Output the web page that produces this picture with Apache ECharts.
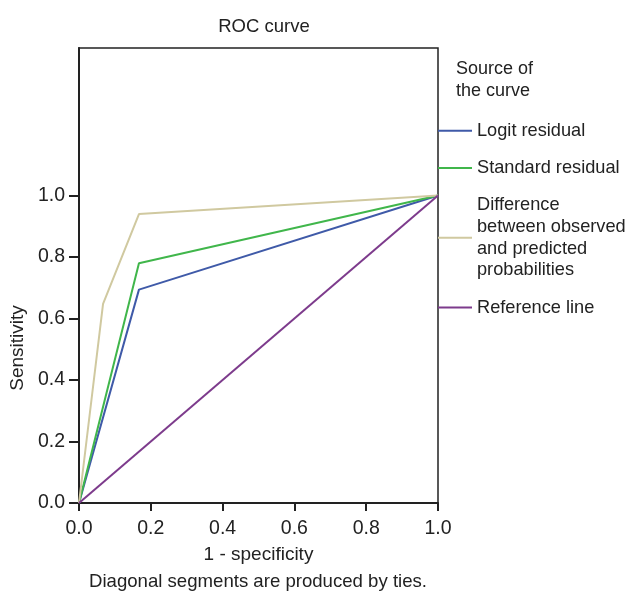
<!DOCTYPE html>
<html>
<head>
<meta charset="utf-8">
<script src="https://cdn.jsdelivr.net/npm/echarts@6/dist/echarts.min.js"></script>
<style>
html,body{margin:0;padding:0;background:#fff;}
#c{width:630px;height:592px;}
</style>
</head>
<body>
<div id="c"></div>
<script>
// ROC data: [1 - specificity, sensitivity]
var logitResidual = [[0, 0], [0.167, 0.694], [1, 1]];
var standardResidual = [[0, 0], [0.167, 0.780], [1, 1]];
var differenceObsPred = [[0, 0], [0.067, 0.648], [0.167, 0.940], [1, 1]];
var referenceLine = [[0, 0], [1, 1]];
var seriesNames = ['Logit residual', 'Standard residual', 'Difference\nbetween observed\nand predicted\nprobabilities', 'Reference line'];
var seriesColors = ['#3f5aa8', '#40b64b', '#d0c9a0', '#7d3b8c'];
var tickValues = [0, 0.2, 0.4, 0.6, 0.8, 1.0];

var FONT = 'Liberation Sans, Arial, sans-serif';
var chart = echarts.init(document.getElementById('c'));
var datasets = [logitResidual, standardResidual, differenceObsPred, referenceLine];

chart.setOption({
  animation: false,
  backgroundColor: '#fff',
  textStyle: {fontFamily: FONT},
  title: [
    {text: 'ROC curve', left: 259, top: 12, textAlign: 'center',
     textStyle: {fontSize: 18.5, fontWeight: 'normal', color: '#222', fontFamily: FONT}},
    {text: 'Source of\nthe curve', left: 456, top: 58, padding: 0,
     textStyle: {fontSize: 18, fontWeight: 'normal', color: '#222', lineHeight: 22, fontFamily: FONT}},
    {text: 'Diagonal segments are produced by ties.', left: 258, top: 572, textAlign: 'center', padding: 0,
     textStyle: {fontSize: 18.6, fontWeight: 'normal', color: '#222', fontFamily: FONT}}
  ],
  grid: {left: 79, right: 192, top: 48, bottom: 89, show: true, borderColor: '#222', borderWidth: 1.5},
  legend: {
    orient: 'vertical', left: 438, top: 120, padding: 0, itemGap: 15.5,
    itemWidth: 34, itemHeight: 2, icon: 'rect',
    data: seriesNames,
    textStyle: {fontSize: 18.2, color: '#222', lineHeight: 21.7, fontFamily: FONT}
  },
  xAxis: {
    type: 'value', min: 0, max: 1, interval: 0.2,
    name: '1 - specificity', nameLocation: 'middle', nameGap: 42,
    nameTextStyle: {fontSize: 19, color: '#222', fontFamily: FONT},
    axisLine: {show: true, onZero: false, lineStyle: {color: '#222', width: 2}},
    axisTick: {show: true, length: 8, lineStyle: {color: '#222', width: 2}},
    axisLabel: {fontSize: 19.5, color: '#222', margin: 16, formatter: function (v) { return v.toFixed(1); }},
    splitLine: {show: false}
  },
  yAxis: {
    type: 'value', min: 0, max: 1.48, interval: 0.2,
    axisLine: {show: true, onZero: false, lineStyle: {color: '#222', width: 2}},
    axisTick: {show: true, length: 10, customValues: tickValues, lineStyle: {color: '#222', width: 2}},
    axisLabel: {fontSize: 19.5, color: '#222', margin: 14, customValues: tickValues, formatter: function (v) { return v.toFixed(1); }},
    splitLine: {show: false}
  },
  graphic: [
    {type: 'text', x: 18, y: 348, rotation: Math.PI / 2,
     style: {text: 'Sensitivity', fontSize: 19, fill: '#222', fontFamily: FONT, textAlign: 'center', textVerticalAlign: 'middle'}}
  ],
  series: datasets.map(function (d, i) {
    return {
      name: seriesNames[i], type: 'line', data: d, symbol: 'none',
      lineStyle: {color: seriesColors[i], width: 2}, itemStyle: {color: seriesColors[i]},
      z: 2 + i
    };
  })
});
</script>
</body>
</html>
